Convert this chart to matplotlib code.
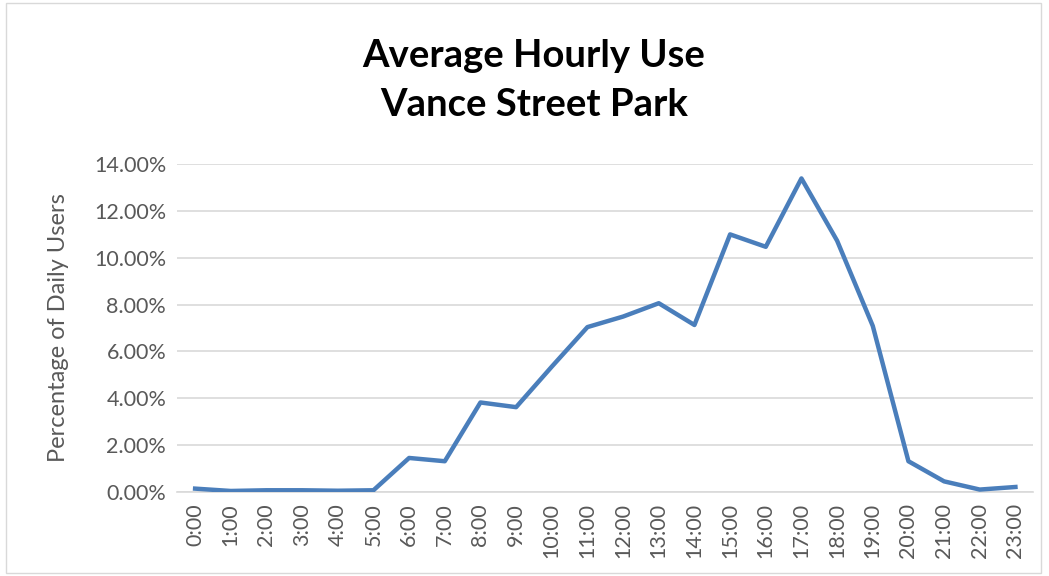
import matplotlib
matplotlib.use("Agg")
import matplotlib.pyplot as plt
from matplotlib.patches import Rectangle
from matplotlib.ticker import FuncFormatter

hours = ["0:00", "1:00", "2:00", "3:00", "4:00", "5:00", "6:00", "7:00", "8:00", "9:00",
         "10:00", "11:00", "12:00", "13:00", "14:00", "15:00", "16:00", "17:00", "18:00",
         "19:00", "20:00", "21:00", "22:00", "23:00"]
pct_users = [0.14, 0.04, 0.07, 0.07, 0.05, 0.07, 1.45, 1.31, 3.82, 3.62,
             5.35, 7.04, 7.49, 8.06, 7.13, 11.00, 10.47, 13.39, 10.73,
             7.09, 1.31, 0.45, 0.10, 0.21]
y_ticks = [0, 2, 4, 6, 8, 10, 12, 14]

plt.rcParams['font.family'] = ['Lato', 'DejaVu Sans']

fig = plt.figure(figsize=(10.49, 5.76), dpi=100)
fig.patches.append(Rectangle((0.006, 0.006), 0.986, 0.988, transform=fig.transFigure,
                             fill=False, edgecolor='#D9D9D9', linewidth=1))
ax = fig.add_axes([0.169, 0.146, 0.816, 0.569])

x = list(range(len(hours)))
ax.plot(x, pct_users, color='#4A7EBB', linewidth=3.2, solid_joinstyle='round', zorder=3)

ax.set_xlim(-0.5, len(hours) - 0.5)
ax.set_ylim(0, 14)
ax.set_yticks(y_ticks)
ax.yaxis.set_major_formatter(FuncFormatter(lambda v, p: f"{v:.2f}%"))
ax.set_xticks(x)
ax.set_xticklabels(hours, rotation=90)
ax.grid(axis='y', color='#D9D9D9', linewidth=1.2)
ax.set_axisbelow(True)
for s in ['top', 'right', 'left']:
    ax.spines[s].set_visible(False)
ax.spines['bottom'].set_color('#D9D9D9')
ax.spines['bottom'].set_linewidth(1.2)
ax.tick_params(axis='both', length=0, labelsize=15.5, colors='#595959', pad=8)
ax.set_ylabel("Percentage of Daily Users", fontsize=17, color='#595959', labelpad=18)

fig.text(0.509, 0.903, "Average Hourly Use", ha='center', va='center', fontsize=27.5,
         fontweight='bold', color='black')
fig.text(0.509, 0.818, "Vance Street Park", ha='center', va='center', fontsize=27.5,
         fontweight='bold', color='black')

fig.savefig("out.png", dpi=100)
